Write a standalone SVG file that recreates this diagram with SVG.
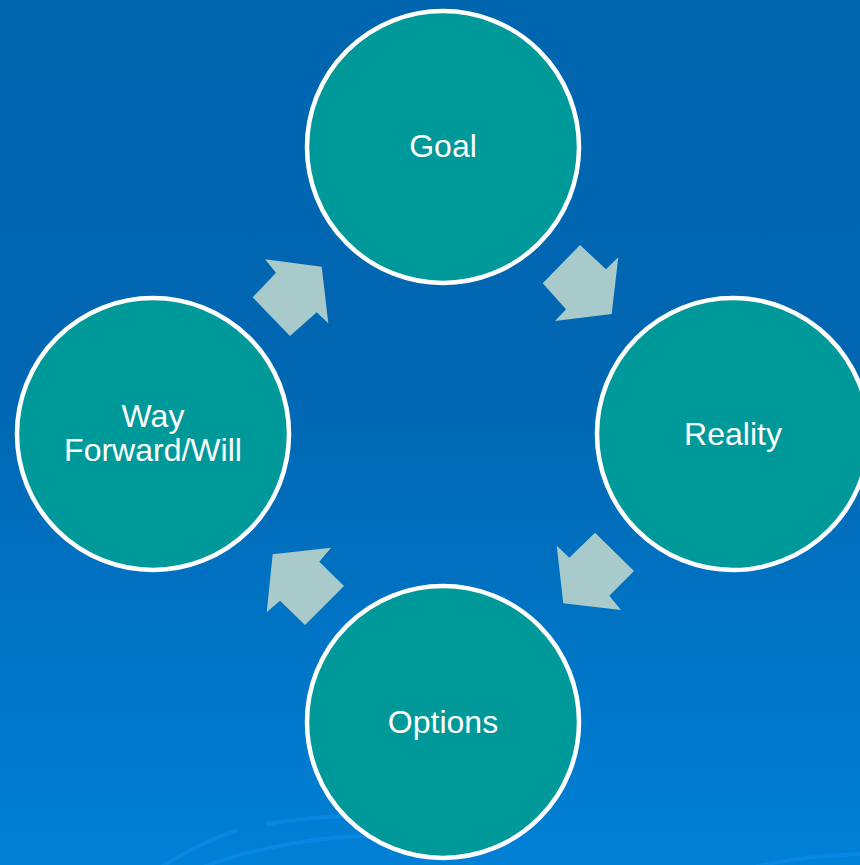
<svg xmlns="http://www.w3.org/2000/svg" width="860" height="865" viewBox="0 0 860 865">
<defs>
<linearGradient id="bg" x1="0" y1="0" x2="0" y2="1">
<stop offset="0" stop-color="#0065AF"/>
<stop offset="0.45" stop-color="#0067B3"/>
<stop offset="1" stop-color="#0080D6"/>
</linearGradient>
<style>
.node circle{fill:#009999;stroke:#FFFFFF;stroke-width:4.5}
.node text{font-family:"Liberation Sans",Arial,sans-serif;font-size:32px;fill:#FFFFFF;text-anchor:middle}
.arr{fill:#A9CACB}
.deco{fill:none;stroke:#0A8BE8;stroke-width:4;opacity:0.7}
</style>
</defs>
<rect width="860" height="865" fill="url(#bg)"/>
<g id="decoration">
<path class="deco" d="M266 824 Q320 815 440 812"/>
<path class="deco" d="M237 830 Q195 845 160 868"/>
<path class="deco" d="M200 868 Q250 848 330 838 Q400 832 460 836"/>
<path class="deco" d="M750 868 Q800 856 862 854" opacity="0.5"/>
</g>
<g id="connectors">
<polygon class="arr" points="580,245 606,269.3 618.3,257.3 611.7,314 555,321 566,309.3 542.7,283.3"/>
<polygon class="arr" points="595,532.7 634,571 609.3,595.7 621,610 563.3,603.3 556.7,545.7 569.3,557.7"/>
<polygon class="arr" points="272.7,554.3 331,547.7 319.3,561.7 344,586 305,625 280,600.7 266.7,612.3"/>
<polygon class="arr" points="265,259.3 321.7,266.7 328.3,323.3 316.7,312.3 290,336 252.7,297.3 276,272.7"/>
</g>
<g id="goal" class="node">
<circle cx="443" cy="147" r="136"/>
<text x="443" y="157">Goal</text>
</g>
<g id="reality" class="node">
<circle cx="733" cy="434" r="136"/>
<text x="733" y="445">Reality</text>
</g>
<g id="options" class="node">
<circle cx="443" cy="722" r="136"/>
<text x="443" y="733">Options</text>
</g>
<g id="wayforward" class="node">
<circle cx="153" cy="434" r="136"/>
<text x="153" y="427">Way</text>
<text x="153" y="461">Forward/Will</text>
</g>
</svg>
